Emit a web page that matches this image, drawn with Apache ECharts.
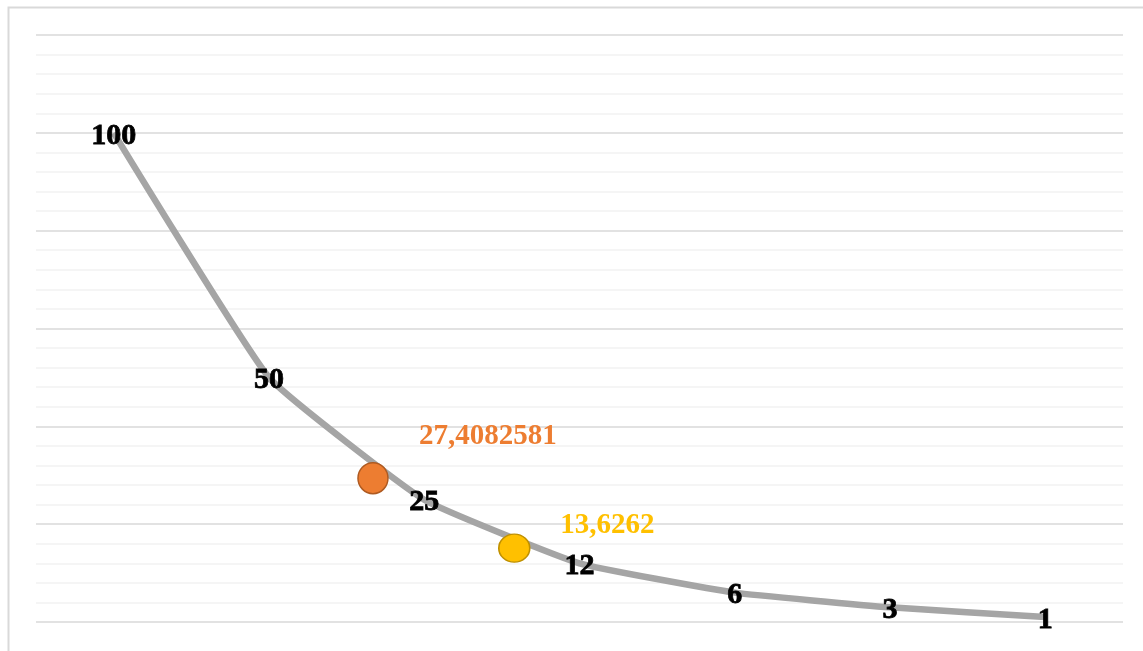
<!DOCTYPE html>
<html>
<head>
<meta charset="utf-8">
<script src="https://cdn.jsdelivr.net/npm/echarts@6/dist/echarts.min.js"></script>
<style>
html,body{margin:0;padding:0;background:#fff;}
#c{width:1143px;height:651px;}
</style>
</head>
<body>
<div id="c"></div>
<script>
// Main series: x positions (category index) and values
const mainX = [1, 2, 3, 4, 5, 6, 7];
const mainValues = [100, 50, 25, 12, 6, 3, 1];

// Highlighted points and their label texts
const orangeX = 2.67;
const orangeY = 29.4;
const orangeLabel = '27,4082581';
const yellowX = 3.58;
const yellowY = 15.1;
const yellowLabel = '13,6262';

const chart = echarts.init(document.getElementById('c'), null, {renderer: 'canvas'});

const serif = '"Liberation Serif", "Times New Roman", serif';

chart.setOption({
  animation: false,
  backgroundColor: '#ffffff',
  graphic: [{
    type: 'rect',
    left: 6, top: 5,
    shape: {width: 1200, height: 700},
    style: {fill: 'none', stroke: '#d9d9d9', lineWidth: 2},
    silent: true, z: -1
  }],
  grid: {left: 36, right: 20, top: 35, bottom: 29},
  xAxis: {
    type: 'value', min: 0.5, max: 7.5,
    show: false
  },
  yAxis: {
    type: 'value', min: 0, max: 120, interval: 20,
    axisLabel: {show: false}, axisLine: {show: false}, axisTick: {show: false},
    splitLine: {show: true, lineStyle: {color: '#d9d9d9', width: 1.5}},
    minorTick: {show: false, splitNumber: 5},
    minorSplitLine: {show: true, lineStyle: {color: '#f2f2f2', width: 1.5}}
  },
  series: [
    {
      type: 'line',
      data: mainX.map((x, i) => [x, mainValues[i]]),
      smooth: 0.12,
      showSymbol: true,
      symbol: 'circle',
      symbolSize: 1,
      itemStyle: {color: 'rgba(0,0,0,0)', opacity: 0},
      lineStyle: {color: '#a5a5a5', width: 6.5},
      label: {
        show: true, position: 'inside', color: '#000000', opacity: 1,
        fontFamily: serif, fontWeight: 'bold', fontSize: 30,
        textBorderColor: '#000000', textBorderWidth: 0.8,
        formatter: p => String(p.value[1])
      },
      labelLayout: {hideOverlap: false, dy: 3},
      z: 2
    },
    {
      type: 'scatter',
      data: [[orangeX, orangeY]],
      symbolSize: [30, 31],
      itemStyle: {color: '#ed7d31', borderColor: '#ae5a21', borderWidth: 1.5, opacity: 1},
      label: {
        show: true, position: 'inside', offset: [115, -42], color: '#ed7d31', opacity: 1,
        fontFamily: serif, fontWeight: 'bold', fontSize: 29,
        formatter: () => orangeLabel
      },
      z: 3
    },
    {
      type: 'scatter',
      data: [[yellowX, yellowY]],
      symbolSize: [31, 28],
      itemStyle: {color: '#ffc000', borderColor: '#bf9000', borderWidth: 1.5, opacity: 1},
      label: {
        show: true, position: 'inside', offset: [93, -23], color: '#ffc000', opacity: 1,
        fontFamily: serif, fontWeight: 'bold', fontSize: 29,
        formatter: () => yellowLabel
      },
      z: 3
    }
  ]
});
</script>
</body>
</html>
